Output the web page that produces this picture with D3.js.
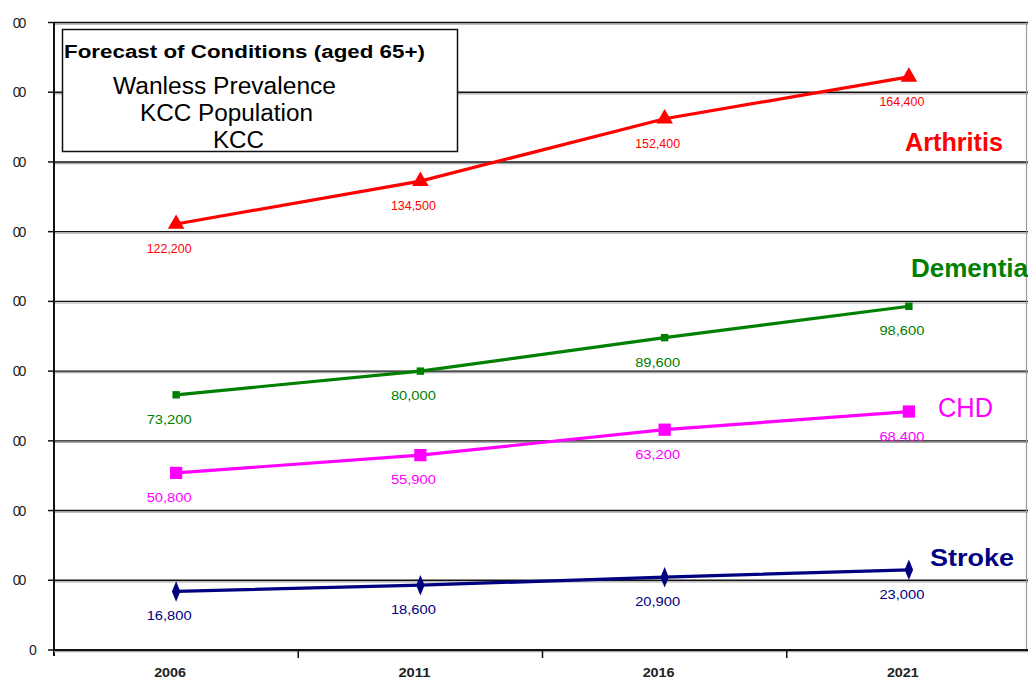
<!DOCTYPE html>
<html>
<head>
<meta charset="utf-8">
<script src="https://cdn.jsdelivr.net/npm/d3@7"></script>
<style>
  html, body { margin: 0; padding: 0; background: #fff; }
  svg { display: block; font-family: "Liberation Sans", Arial, sans-serif; }
</style>
</head>
<body>
<svg id="chart" width="1028" height="681"></svg>
<script>
// Forecast of conditions for people aged 65+ (KCC)
const years = ["2006", "2011", "2016", "2021"];

const arthritis = [122200, 134500, 152400, 164400];
const dementia  = [73200, 80000, 89600, 98600];
const chd       = [50800, 55900, 63200, 68400];
const stroke    = [16800, 18600, 20900, 23000];

const seriesNames = ["Arthritis", "Dementia", "CHD", "Stroke"];

const yTicks = [0, 20000, 40000, 60000, 80000, 100000, 120000, 140000, 160000, 180000];
const yTickLabels = ["0", "00", "00", "00", "00", "00", "00", "00", "00", "00"];

const legendTitle = "Forecast of Conditions (aged 65+)";
const legendLines = ["Wanless Prevalence", "KCC Population", "KCC"];

(function () {
const series = [
  { name: seriesNames[0], values: arthritis, color: "#ff0000", symbol: d3.symbolTriangle, size: 120, sx: 1, sy: 1,
    label: { x: 905, y: 151, len: 98, size: 26, weight: "bold" } },
  { name: seriesNames[1], values: dementia, color: "#008000", symbol: d3.symbolSquare, size: 55, sx: 1, sy: 1,
    label: { x: 911, y: 277, len: 117, size: 26, weight: "bold" } },
  { name: seriesNames[2], values: chd, color: "#ff00ff", symbol: d3.symbolSquare, size: 150, sx: 1, sy: 1,
    label: { x: 938, y: 417, len: 55, size: 27, weight: "normal" } },
  { name: seriesNames[3], values: stroke, color: "#000080", symbol: d3.symbolDiamond, size: 110, sx: 0.75, sy: 1.05,
    label: { x: 930, y: 566, len: 84, size: 24, weight: "bold" } }
];

const svg = d3.select("#chart");
const W = 1028, H = 681;
const plotLeft = 54, plotRight = 1031, plotTop = 22.5, plotBottom = 650;

const x = d3.scaleBand().domain(years).range([plotLeft, plotRight]).padding(0);
const y = d3.scaleLinear().domain([0, 180000]).range([plotBottom, plotTop]);
const cx = d => x(d) + x.bandwidth() / 2;

svg.append("rect").attr("width", W).attr("height", H).attr("fill", "#fff");

// horizontal gridlines (dark line with a light shadow underneath)
const grid = svg.append("g");
yTicks.filter(v => v > 0).forEach(v => {
  grid.append("line").attr("x1", plotLeft).attr("x2", W).attr("y1", y(v) + 1.6).attr("y2", y(v) + 1.6)
    .attr("stroke", "#a8a8a8").attr("stroke-width", 1.2);
  grid.append("line").attr("x1", plotLeft).attr("x2", W).attr("y1", y(v)).attr("y2", y(v))
    .attr("stroke", "#111").attr("stroke-width", 1.4);
});

// right border of the plot area
svg.append("line").attr("x1", 1026.5).attr("x2", 1026.5).attr("y1", y(180000)).attr("y2", plotBottom)
  .attr("stroke", "#9a9a9a").attr("stroke-width", 1.2);

// y axis
const yAxis = svg.append("g");
yAxis.append("line").attr("x1", plotLeft).attr("x2", plotLeft).attr("y1", plotTop).attr("y2", plotBottom + 6)
  .attr("stroke", "#111").attr("stroke-width", 2);
yAxis.selectAll("line.tick").data(yTicks).join("line").attr("class", "tick")
  .attr("x1", plotLeft - 6).attr("x2", plotLeft).attr("y1", d => y(d)).attr("y2", d => y(d))
  .attr("stroke", "#111").attr("stroke-width", 1.5);
yAxis.selectAll("text").data(yTicks).join("text")
  .attr("x", (d, i) => yTickLabels[i].length > 1 ? 18.5 : 33)
  .attr("y", d => y(d) + 5)
  .attr("text-anchor", "middle")
  .attr("font-size", 14)
  .attr("letter-spacing", (d, i) => yTickLabels[i].length > 1 ? -2 : 0)
  .attr("fill", "#222")
  .text((d, i) => yTickLabels[i]);

// x axis
const xAxis = svg.append("g");
xAxis.append("line").attr("x1", plotLeft).attr("x2", W).attr("y1", plotBottom + 1.6).attr("y2", plotBottom + 1.6)
  .attr("stroke", "#a8a8a8").attr("stroke-width", 1.2);
xAxis.append("line").attr("x1", plotLeft).attr("x2", W).attr("y1", plotBottom).attr("y2", plotBottom)
  .attr("stroke", "#111").attr("stroke-width", 2);
xAxis.selectAll("line.tick").data(years.slice(1)).join("line").attr("class", "tick")
  .attr("x1", d => x(d)).attr("x2", d => x(d)).attr("y1", plotBottom).attr("y2", plotBottom + 8)
  .attr("stroke", "#111").attr("stroke-width", 1.5);
xAxis.selectAll("text").data(years).join("text")
  .attr("x", d => cx(d) - 6)
  .attr("y", 677)
  .attr("text-anchor", "middle")
  .attr("font-size", 12)
  .attr("font-weight", "bold")
  .attr("textLength", 32)
  .attr("lengthAdjust", "spacingAndGlyphs")
  .attr("fill", "#222")
  .text(d => d);

// series lines, markers and value labels
const line = d3.line().x((d, i) => cx(years[i])).y(d => y(d));
const fmt = d3.format(",");

series.forEach(s => {
  const g = svg.append("g");
  g.append("path").datum(s.values).attr("d", line)
    .attr("fill", "none").attr("stroke", s.color).attr("stroke-width", 3.2);
  g.selectAll("path.mk").data(s.values).join("path").attr("class", "mk")
    .attr("d", d3.symbol().type(s.symbol).size(s.size))
    .attr("transform", (d, i) => `translate(${cx(years[i])},${y(d)}) scale(${s.sx},${s.sy})`)
    .attr("fill", s.color);
  g.selectAll("text.val").data(s.values).join("text").attr("class", "val")
    .attr("x", (d, i) => cx(years[i]) - 7)
    .attr("y", d => y(d) + 29)
    .attr("text-anchor", "middle")
    .attr("font-size", 12)
    .attr("textLength", 45)
    .attr("lengthAdjust", "spacingAndGlyphs")
    .attr("fill", s.color)
    .text(d => fmt(d));
  g.append("text")
    .attr("x", s.label.x).attr("y", s.label.y)
    .attr("font-size", s.label.size)
    .attr("font-weight", s.label.weight)
    .attr("textLength", s.label.len)
    .attr("lengthAdjust", "spacingAndGlyphs")
    .attr("fill", s.color)
    .text(s.name);
});

// title box
const box = svg.append("g");
box.append("rect").attr("x", 62.5).attr("y", 29.5).attr("width", 395).attr("height", 122)
  .attr("fill", "#fff").attr("stroke", "#111").attr("stroke-width", 1.5);
box.append("text").attr("x", 64).attr("y", 58)
  .attr("font-size", 18).attr("font-weight", "bold")
  .attr("textLength", 361).attr("lengthAdjust", "spacingAndGlyphs")
  .attr("fill", "#000").text(legendTitle);
const lineStarts = [113, 140, 213];
const lineLens = [223, 173, 51];
const lineBase = [94, 121, 148];
box.selectAll("text.sub").data(legendLines).join("text").attr("class", "sub")
  .attr("x", (d, i) => lineStarts[i]).attr("y", (d, i) => lineBase[i])
  .attr("font-size", 23)
  .attr("textLength", (d, i) => lineLens[i]).attr("lengthAdjust", "spacingAndGlyphs")
  .attr("fill", "#000").text(d => d);
})();
</script>
</body>
</html>
